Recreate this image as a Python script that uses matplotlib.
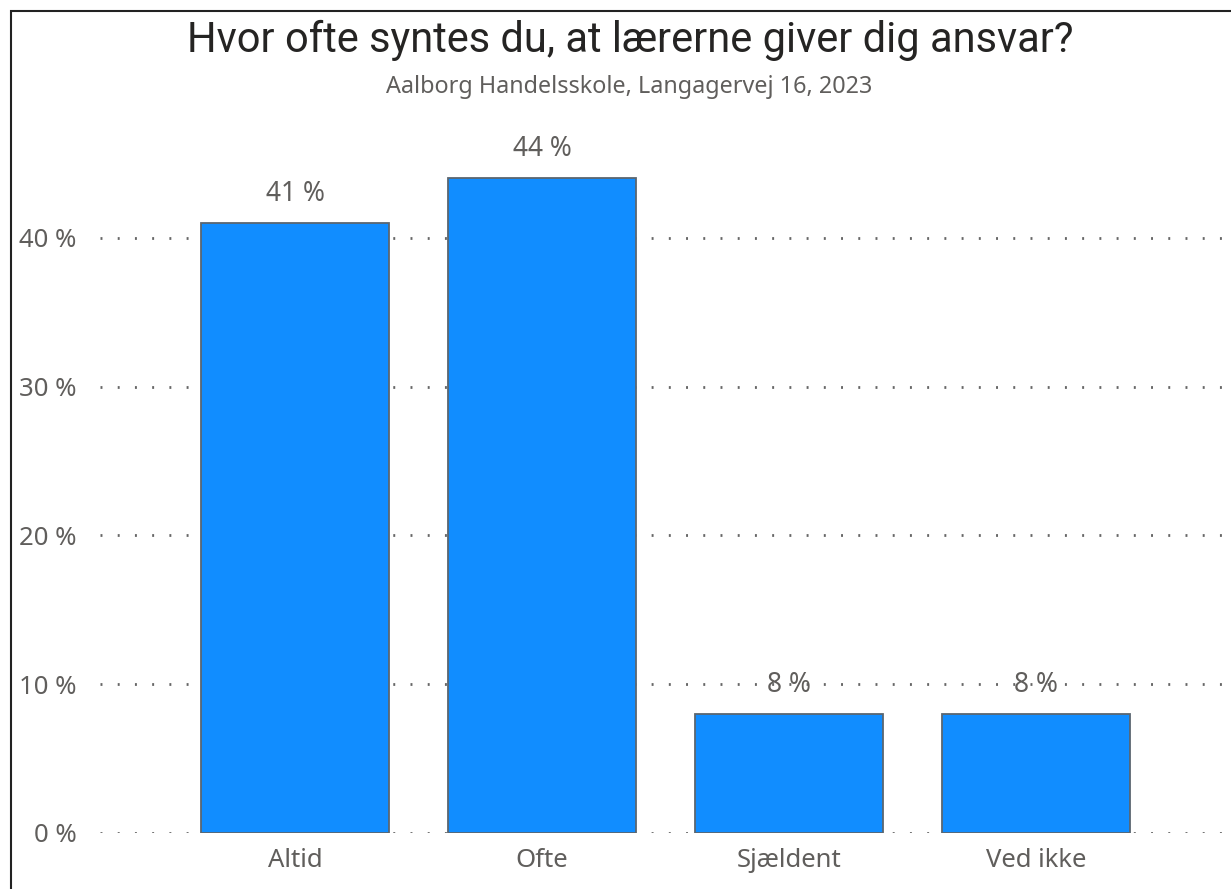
import matplotlib
matplotlib.use("Agg")
import matplotlib.pyplot as plt
from matplotlib.patches import Rectangle

# survey answers
categories = ["Altid", "Ofte", "Sjældent", "Ved ikke"]
values = [41, 44, 8, 8]
yticks = [0, 10, 20, 30, 40]

title = "Hvor ofte syntes du, at lærerne giver dig ansvar?"
subtitle = "Aalborg Handelsskole, Langagervej 16, 2023"

W, H = 1231, 889
fig = plt.figure(figsize=(W / 100, H / 100), dpi=100)
fig.patch.set_facecolor("white")

# axes placed in pixel coords: left 100, right 1231, bottom y=833, top y=159
ax = fig.add_axes([100 / W, (H - 833) / H, (W - 100) / W, (833 - 159) / H])
x = list(range(len(categories)))
ax.bar(x, values, width=0.76, color="#118DFF", edgecolor="#5B6670", linewidth=1.3, zorder=3)
ax.set_xlim(-0.79, 3.79)
ax.set_ylim(0, 45.3)

for s in ax.spines.values():
    s.set_visible(False)

ax.set_yticks(yticks)
ax.set_yticklabels([f"{t} %" for t in yticks])
ax.set_xticks(x)
ax.set_xticklabels(categories)
ax.tick_params(axis="both", length=0, labelsize=18.5, labelcolor="#605E5C")
ax.tick_params(axis="y", pad=17)
ax.tick_params(axis="x", pad=11)
for lab in ax.get_xticklabels() + ax.get_yticklabels():
    lab.set_fontfamily("Noto Sans")

for yv in yticks:
    ax.axhline(yv, color="#666666", linewidth=2, linestyle=(0, (0.7, 5.5)), zorder=1)

for xi, v in zip(x, values):
    ax.text(xi, v + 1.0, f"{v} %", ha="center", va="bottom", fontsize=19,
            color="#605E5C", family="Noto Sans", zorder=4)

fig.text(630 / W, 1 - 40 / H, title, ha="center", va="center", fontsize=30,
         color="#252423", family="Roboto")
fig.text(629 / W, 1 - 87 / H, subtitle, ha="center", va="center", fontsize=16.8,
         color="#605E5C", family="Noto Sans")

# frame around the visual (cut off at right and bottom)
fig.patches.append(Rectangle((11 / W, -0.1), 1.2, 1 - 11 / H + 0.1, transform=fig.transFigure,
                             fill=False, edgecolor="#222222", linewidth=1.5))

fig.savefig("out.png", dpi=100, facecolor="white")
